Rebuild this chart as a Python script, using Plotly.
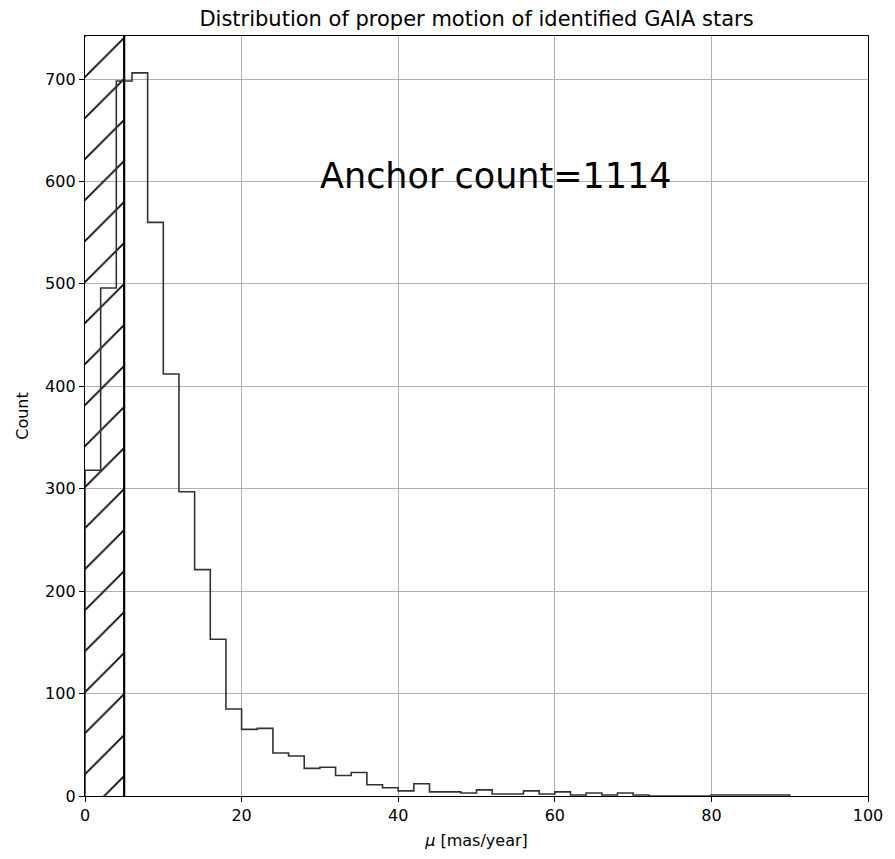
import plotly.graph_objects as go

# Histogram bin edges (width 2, from 0 to 90) and counts
bin_edges = list(range(0, 92, 2))
counts = [318, 496, 698, 706, 560, 412, 297, 221, 153, 85,
          65, 66, 42, 39, 27, 28, 20, 23, 11, 8,
          5, 12, 4, 4, 3, 6, 2, 2, 5, 2,
          4, 1, 3, 1, 3, 1, 0, 0, 0, 0,
          1, 1, 1, 1, 1]

threshold = 5          # mas/year cut (hatched region)
anchor_count = 1114
y_max = 742

# build step outline (matplotlib histtype='step')
xs = [bin_edges[0]]
ys = [0]
for i, c in enumerate(counts):
    xs += [bin_edges[i], bin_edges[i + 1]]
    ys += [c, c]
xs.append(bin_edges[len(counts)])
ys.append(0)

fig = go.Figure()

# hatched exclusion region
fig.add_trace(go.Bar(
    x=[threshold / 2], y=[y_max], width=[threshold],
    marker=dict(color="rgba(255,255,255,0)",
                line=dict(width=0),
                pattern=dict(shape="/", fgcolor="#000000", fgopacity=1,
                             bgcolor="rgba(255,255,255,0)",
                             size=29, solidity=0.06, fillmode="overlay")),
    hoverinfo="skip", showlegend=False,
))

fig.add_trace(go.Scatter(
    x=xs, y=ys, mode="lines",
    line=dict(color="#333333", width=1.6),
    showlegend=False,
))

fig.add_shape(type="line", x0=threshold, x1=threshold, y0=0, y1=1,
              xref="x", yref="paper", line=dict(color="black", width=2.2))

fig.add_annotation(x=52.5, y=605, text=f"Anchor count={anchor_count}",
                   showarrow=False, font=dict(size=35, color="black",
                                               family="DejaVu Sans"))

axis_common = dict(showline=True, linecolor="black", linewidth=1.3, mirror=True,
                   ticks="outside", ticklen=5, tickcolor="black",
                   showgrid=True, gridcolor="#b0b0b0", gridwidth=1,
                   zeroline=False, tickfont=dict(size=16, color="black"))

fig.update_xaxes(range=[0, 100], dtick=20, **axis_common,
                 title=dict(text="<i>μ</i> [mas/year]", font=dict(size=16, color="black"),
                            standoff=10))
fig.update_yaxes(range=[0, y_max], dtick=100, **axis_common,
                 title=dict(text="Count", font=dict(size=16, color="black"), standoff=12))

fig.update_layout(
    width=895, height=859,
    margin=dict(l=85, r=20, t=36, b=58),
    paper_bgcolor="white", plot_bgcolor="white",
    font=dict(family="DejaVu Sans", color="black"),
    title=dict(text="Distribution of proper motion of identified GAIA stars",
               x=0.5, xanchor="center", xref="paper", y=1 - 19 / 859, yanchor="middle",
               font=dict(size=21, color="black")),
    bargap=0,
)

fig.write_html("out.html")
